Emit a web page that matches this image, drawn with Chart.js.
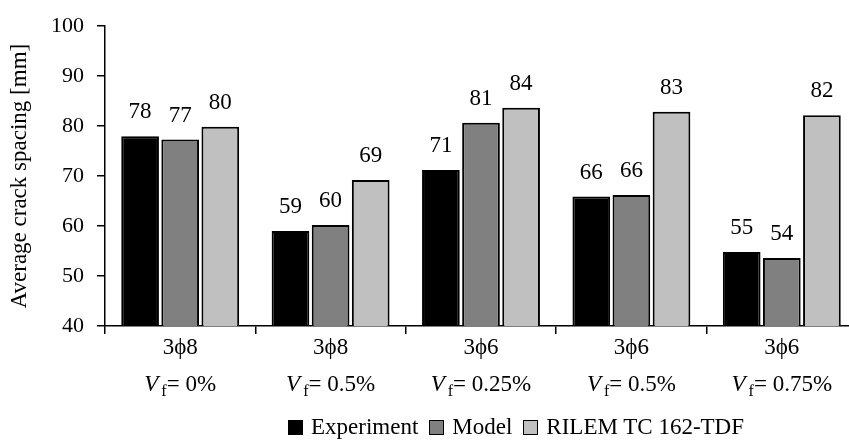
<!DOCTYPE html>
<html>
<head>
<meta charset="utf-8">
<script src="https://cdn.jsdelivr.net/npm/chart.js@4"></script>
<style>
  html, body { margin: 0; padding: 0; background: #fff; overflow: hidden; }
  #wrap { position: relative; width: 857px; height: 443px; }
  #legend { position: absolute; left: 288px; top: 414px; display: flex; align-items: center;
            font-family: "Liberation Serif", serif; font-size: 23px; color: #000; white-space: nowrap; }
  #legend span.box { display: inline-block; width: 13px; height: 13px; border: 1px solid #000; margin-right: 8px; }
  #legend span.item { display: flex; align-items: center; margin-right: 11px; }
</style>
</head>
<body>
<div id="wrap">
  <canvas id="crackChart" width="857" height="443"></canvas>
  <div id="legend"></div>
</div>
<script>
const groups = ["3\u03d58", "3\u03d58", "3\u03d56", "3\u03d56", "3\u03d56"];
const fibre = ["0%", "0.5%", "0.25%", "0.5%", "0.75%"];
const experiment = [78.0, 59.0, 71.2, 65.9, 54.8];
const model = [77.3, 60.2, 80.7, 66.2, 53.6];
const rilem = [79.9, 69.2, 83.7, 82.9, 82.2];
const seriesNames = ["Experiment", "Model", "RILEM TC 162-TDF"];
const seriesColors = ["#000000", "#808080", "#c0c0c0"];

const FONT = "Liberation Serif";
Chart.defaults.font.family = FONT;
Chart.defaults.color = "#000";

// value above each bar
const valueLabels = {
  id: "valueLabels",
  afterDatasetsDraw(chart) {
    const ctx = chart.ctx;
    ctx.save();
    ctx.font = "23px '" + FONT + "'";
    ctx.fillStyle = "#000";
    ctx.textAlign = "center";
    ctx.textBaseline = "alphabetic";
    chart.data.datasets.forEach((ds, i) => {
      chart.getDatasetMeta(i).data.forEach((bar, j) => {
        ctx.fillText(String(Math.round(ds.data[j])), bar.x, bar.y - 18);
      });
    });
    ctx.restore();
  }
};

// second label line: italic V, subscript f
const fibreLine = {
  id: "fibreLine",
  afterDraw(chart) {
    const ctx = chart.ctx;
    const xs = chart.scales.x;
    const y = 391;
    ctx.save();
    ctx.fillStyle = "#000";
    ctx.textBaseline = "alphabetic";
    ctx.textAlign = "left";
    fibre.forEach((f, j) => {
      const cx = xs.getPixelForValue(j);
      const fV = "italic 23px '" + FONT + "'";
      const fS = "16px '" + FONT + "'";
      const fN = "23px '" + FONT + "'";
      const rest = "= " + f;
      ctx.font = fV; const wV = ctx.measureText("V").width + 3;
      ctx.font = fS; const wS = ctx.measureText("f").width;
      ctx.font = fN; const wR = ctx.measureText(rest).width;
      let x = cx - (wV + wS + wR) / 2;
      ctx.font = fV; ctx.fillText("V", x, y); x += wV;
      ctx.font = fS; ctx.fillText("f", x, y + 5); x += wS;
      ctx.font = fN; ctx.fillText(rest, x, y);
    });
    ctx.restore();
  }
};

new Chart(document.getElementById("crackChart"), {
  type: "bar",
  data: {
    labels: groups,
    datasets: [experiment, model, rilem].map((d, i) => ({
      label: seriesNames[i],
      data: d,
      backgroundColor: seriesColors[i],
      borderColor: "#000",
      borderWidth: 2,
      categoryPercentage: 0.8,
      barPercentage: 0.94
    }))
  },
  options: {
    responsive: false,
    animation: false,
    layout: { padding: { top: 21, left: 0, right: 0, bottom: 0 } },
    plugins: { legend: { display: false }, tooltip: { enabled: false } },
    scales: {
      x: {
        offset: true,
        grid: { offset: true, drawOnChartArea: false, drawTicks: true, tickLength: 8, color: "#000", lineWidth: 1.5 },
        border: { display: true, color: "#000", width: 1.5 },
        ticks: { font: { size: 23 }, color: "#000", padding: 0, maxRotation: 0,
                 callback: (v, i) => [groups[i], ""] },
        afterFit(s) { s.height = 117; }
      },
      y: {
        min: 40, max: 100,
        grid: { drawOnChartArea: false, drawTicks: true, tickLength: 8, color: "#000", lineWidth: 1.5 },
        border: { display: true, color: "#000", width: 1.5 },
        ticks: { stepSize: 5, padding: 13, font: { size: 22 }, color: "#000",
                 callback: v => (v % 10 === 0 ? String(v) : "") },
        title: { display: true, text: "Average crack spacing [mm]", font: { size: 23 }, color: "#000", padding: { top: 6, bottom: 0 } },
        afterFit(s) { s.width = 105; }
      }
    }
  },
  plugins: [valueLabels, fibreLine]
});

// legend
const lg = document.getElementById("legend");
seriesNames.forEach((n, i) => {
  const it = document.createElement("span");
  it.className = "item";
  const b = document.createElement("span");
  b.className = "box";
  b.style.background = seriesColors[i];
  it.appendChild(b);
  it.appendChild(document.createTextNode(n));
  lg.appendChild(it);
});
</script>
</body>
</html>
